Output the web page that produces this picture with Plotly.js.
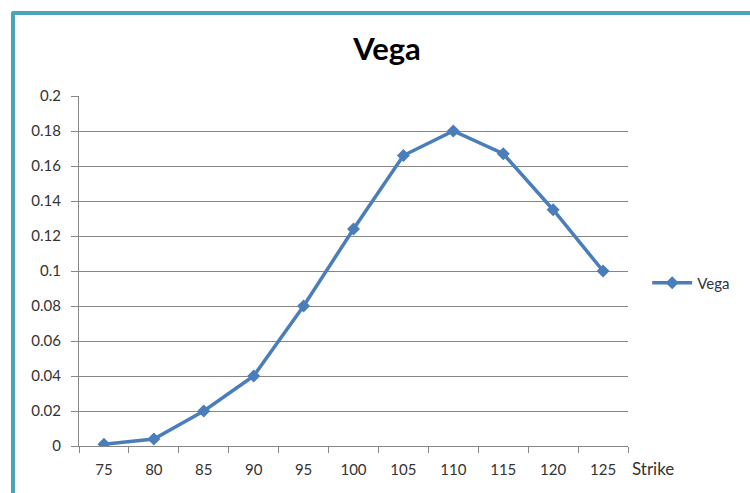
<!DOCTYPE html>
<html>
<head>
<meta charset="utf-8">
<script src="https://cdn.plot.ly/plotly-3.0.1.min.js"></script>
<style>
  html, body { margin: 0; padding: 0; background: #fff; }
  #wrap { position: relative; width: 750px; height: 493px; overflow: hidden; }
  #chart { position: absolute; left: 0; top: 0; width: 750px; height: 493px; }
  #frame { position: absolute; left: 11px; top: 11px; width: 760px; height: 500px;
           border-left: 4px solid #4BA4BA; border-top: 4px solid #4BA4BA;
           border-top-left-radius: 3px; pointer-events: none; }
</style>
</head>
<body>
<div id="wrap">
  <div id="chart"></div>
  <div id="frame"></div>
</div>
<script>
const strikes = ["75", "80", "85", "90", "95", "100", "105", "110", "115", "120", "125"];
const vega = [0.001, 0.004, 0.020, 0.040, 0.080, 0.124, 0.166, 0.180, 0.167, 0.135, 0.100];
const yTicks = [0, 0.02, 0.04, 0.06, 0.08, 0.1, 0.12, 0.14, 0.16, 0.18, 0.2];
const yTickText = ["0", "0.02", "0.04", "0.06", "0.08", "0.1", "0.12", "0.14", "0.16", "0.18", "0.2"];

const fontFam = "Lato, 'Open Sans', sans-serif";

const trace = {
  x: strikes,
  y: vega,
  type: "scatter",
  mode: "lines+markers",
  name: "Vega",
  line: { color: "#4A7EBB", width: 3.5 },
  marker: { symbol: "diamond", size: 10, color: "#4A7EBB" }
};

const layout = {
  width: 750,
  height: 493,
  margin: { l: 79, r: 122, t: 96, b: 47 },
  paper_bgcolor: "#ffffff",
  plot_bgcolor: "#ffffff",
  font: { family: fontFam, size: 15, color: "#333333" },
  title: {
    text: "<b>Vega</b>",
    font: { family: fontFam, size: 31, color: "#000000" },
    x: 0.516, xanchor: "center",
    y: 0.9, yanchor: "middle", yref: "container"
  },
  showlegend: true,
  legend: {
    x: 1.035, xanchor: "left",
    y: 0.466, yanchor: "middle",
    font: { family: fontFam, size: 15, color: "#333333" },
    itemwidth: 40,
    tracegroupgap: 0
  },
  xaxis: {
    type: "category",
    range: [-0.5, 10.5],
    tickson: "boundaries",
    ticks: "outside",
    ticklen: 6,
    tickcolor: "#868686",
    ticklabelstandoff: 10,
    showline: true,
    linecolor: "#868686",
    linewidth: 1,
    showgrid: false,
    zeroline: false,
    tickfont: { family: fontFam, size: 15, color: "#333333" },
    fixedrange: true
  },
  yaxis: {
    range: [0, 0.2],
    tickvals: yTicks,
    ticktext: yTickText,
    ticks: "outside",
    ticklen: 7,
    tickcolor: "#868686",
    ticklabelstandoff: 7,
    showline: true,
    linecolor: "#868686",
    linewidth: 1,
    showgrid: true,
    gridcolor: "#868686",
    gridwidth: 1,
    zeroline: false,
    tickfont: { family: fontFam, size: 15, color: "#333333" },
    fixedrange: true
  },
  annotations: [{
    text: "Strike",
    xref: "paper", yref: "paper",
    x: 1.0, xanchor: "left", xshift: 2,
    y: 0, yanchor: "middle", yshift: -22,
    showarrow: false,
    font: { family: fontFam, size: 17, color: "#333333" }
  }]
};

Plotly.newPlot("chart", [trace], layout, { displayModeBar: false, staticPlot: true });
</script>
</body>
</html>
